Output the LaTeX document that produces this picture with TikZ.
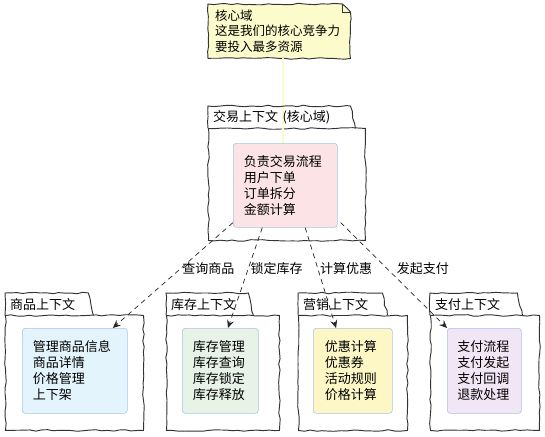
\documentclass[tikz,border=0pt]{standalone}
\usepackage{fontspec}
\newfontfamily\cjk{Noto Sans CJK SC}
\usetikzlibrary{arrows.meta, positioning, calc, decorations.pathmorphing}
\definecolor{notefill}{HTML}{FBFBCB}
\definecolor{compline}{HTML}{A9C4E4}
\definecolor{corefill}{HTML}{FCE4E6}
\definecolor{goodsfill}{HTML}{E3F4FD}
\definecolor{stockfill}{HTML}{E7F3E7}
\definecolor{promofill}{HTML}{FDF7C6}
\definecolor{payfill}{HTML}{F1E6F5}
\pgfdeclarelayer{background}
\pgfsetlayers{background,main}

\begin{document}
\begin{tikzpicture}[
  x=1pt, y=-1pt,
  font=\cjk\fontsize{13}{16}\selectfont,
  sketch/.style={draw=black!80, line width=0.95pt, decorate,
                 decoration={random steps, segment length=6pt, amplitude=0.8pt}},
  pkg/.style={sketch, rectangle, fill=white, anchor=north west, inner sep=0pt},
  tab/.style={anchor=north west, minimum height=22pt, inner xsep=5pt,
              text width=#1, align=left},
  comp/.style={rectangle, rounded corners=3pt, draw=compline, line width=0.6pt,
               anchor=north west, align=left, inner xsep=10.5pt, inner ysep=0pt},
  dep/.style={draw=black!85, line width=0.7pt, dash pattern=on 5pt off 4pt,
              -{Stealth[length=8pt, width=7pt, inset=3pt]}},
  lbl/.style={anchor=west, inner sep=2pt},
  tail/.style={draw=black!75, line width=0.55pt, double=notefill, double distance=1.3pt},
]
\useasboundingbox (0,0) rectangle (545,436);

% note on the core domain
\node (note) [anchor=north west, minimum width=142pt, minimum height=54pt,
              inner xsep=7pt, align=left, text width=128pt, font=\cjk\fontsize{12.5}{15.5}\selectfont]
  at (208,4) {核心域\\这是我们的核心竞争力\\要投入最多资源};
\begin{pgfonlayer}{background}
\draw [sketch, fill=notefill] (note.north west) -- ($(note.north east)+(-8,0)$)
  -- ($(note.north east)+(0,8)$) -- (note.south east) -- (note.south west) -- cycle;
\draw [sketch, line width=0.6pt] ($(note.north east)+(-8,0)$) -- ($(note.north east)+(-8,8)$)
  -- ($(note.north east)+(0,8)$);
\end{pgfonlayer}

% packages
\node (corepkg)  [pkg, minimum width=157pt, minimum height=112pt] at (208,128) {};
\node (goodspkg) [pkg, minimum width=138pt, minimum height=115pt] at (5,315) {};
\node (stockpkg) [pkg, minimum width=113pt, minimum height=115pt] at (166,315) {};
\node (promopkg) [pkg, minimum width=109pt, minimum height=115pt] at (298,315) {};
\node (paypkg)   [pkg, minimum width=109pt, minimum height=115pt] at (430,315) {};

% note tail (under the tab texts)
\coordinate (tailtop) at ($(note.south west)+(75,0)$);
\draw [tail] (tailtop) -- (tailtop |- 0,143);

\node (coretab)  [tab=132pt] at (208,106) {交易上下文 (核心域)};
\node (goodstab) [tab=73pt]  at (5,293)   {商品上下文};
\node (stocktab) [tab=72pt]  at (166,293) {库存上下文};
\node (promotab) [tab=74pt]  at (298,293) {营销上下文};
\node (paytab)   [tab=77pt]  at (430,293) {支付上下文};

\foreach \t in {coretab, goodstab, stocktab, promotab, paytab}
  \draw [sketch] (\t.south west) |- (\t.north east) -- ($(\t.south east)+(5,0)$);

% components
\node (corebox)  [comp, fill=corefill, text width=83pt, minimum height=84pt] at (233,143)
  {负责交易流程\\用户下单\\订单拆分\\金额计算};
\node (goodsbox) [comp, fill=goodsfill, text width=84pt, minimum height=85pt] at (22,328)
  {管理商品信息\\商品详情\\价格管理\\上下架};
\node (stockbox) [comp, fill=stockfill, text width=55pt, minimum height=85pt] at (182,328)
  {库存管理\\库存查询\\库存锁定\\库存释放};
\node (promobox) [comp, fill=promofill, text width=56pt, minimum height=85pt, inner xsep=11.5pt] at (313,328)
  {优惠计算\\优惠券\\活动规则\\价格计算};
\node (paybox)   [comp, fill=payfill, text width=54pt, minimum height=85pt, inner xsep=10pt] at (447,328)
  {支付流程\\支付发起\\支付回调\\退款处理};

% dependencies
\draw [dep] ($(corebox.south west)+(0,-5)$)
  -- node[lbl, pos=0.44] {查询商品} ($(goodsbox.north west)!0.86!(goodsbox.north east)$);
\draw [dep] ($(corebox.south west)!0.28!(corebox.south east)$)
  -- node[lbl, pos=0.41] {锁定库存} ($(stockbox.north west)!0.6!(stockbox.north east)$);
\draw [dep] ($(corebox.south west)!0.69!(corebox.south east)$)
  -- node[lbl, pos=0.41] {计算优惠} ($(promobox.north west)!0.29!(promobox.north east)$);
\draw [dep] ($(corebox.south east)+(3,-5)$)
  -- node[lbl, pos=0.44, xshift=7pt] {发起支付} (paybox.north west);
\end{tikzpicture}
\end{document}
